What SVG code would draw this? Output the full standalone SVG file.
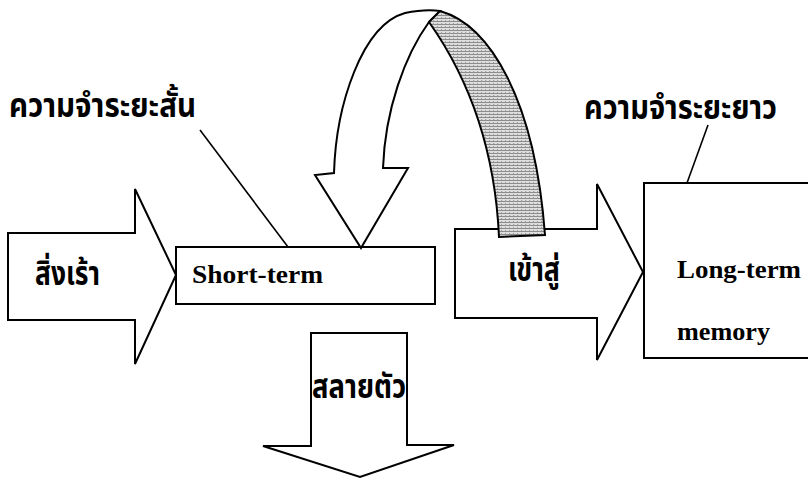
<svg xmlns="http://www.w3.org/2000/svg" width="808" height="484" viewBox="0 0 808 484">
<defs>
<pattern id="hatch" width="4" height="3" patternUnits="userSpaceOnUse">
<rect width="4" height="3" fill="#dedede"/>
<rect y="0" width="4" height="1" fill="#8c8c8c"/>
<rect x="1" y="2" width="1" height="1" fill="#a0a0a0"/>
</pattern>
</defs>
<style>
.shape{fill:#fff;stroke:#000;stroke-width:2;stroke-linejoin:miter}
.lead{stroke:#000;stroke-width:1.6;fill:none}
.en{font-family:"Liberation Serif","Times New Roman",serif;font-weight:bold;font-size:26px;fill:#000}
.th{font-family:"Noto Sans Thai","Noto Sans","Liberation Sans",sans-serif;font-weight:bold;font-size:33px;fill:#000}
</style>
<rect width="808" height="484" fill="#fff"/>

<g id="stimulus-arrow">
<path class="shape" d="M8,233 L135,233 L135,189 L176,275 L135,364 L135,320 L8,320 Z"/>
<text class="th" x="35" y="285" textLength="65" lengthAdjust="spacingAndGlyphs">สิ่งเร้า</text>
</g>

<g id="short-term">
<rect class="shape" x="176" y="247" width="259" height="57"/>
<text class="en" x="192" y="283" textLength="131" lengthAdjust="spacingAndGlyphs">Short-term</text>
</g>

<g id="enter-arrow">
<path class="shape" d="M455,229 L597,229 L597,184 L643,272 L597,360 L597,318 L455,318 Z"/>
<text class="th" x="508" y="281" textLength="52" lengthAdjust="spacingAndGlyphs">เข้าสู่</text>
</g>

<g id="long-term">
<path class="shape" d="M812,183 L644,183 L644,358 L812,358"/>
<text class="en" x="677" y="278" textLength="124" lengthAdjust="spacingAndGlyphs">Long-term</text>
<text class="en" x="677" y="340" textLength="93" lengthAdjust="spacingAndGlyphs">memory</text>
</g>

<g id="decay-arrow">
<path class="shape" d="M311,333 L407,333 L407,445 L454,445 L360,477 L263,446 L311,446 Z"/>
<text class="th" x="312" y="398" textLength="94" lengthAdjust="spacingAndGlyphs">สลายตัว</text>
</g>

<g id="rehearsal-loop">
<path class="shape" d="M334,173 C336,105 362,25 405,13 Q425,9 440,11 L429,22 C405,55 385,110 383,168 L408,168 L361,248 L315,175 Z"/>
<path d="M440,11 C490,25 535,100 545,235 L499,237 C495,150 470,80 429,22 Z" fill="url(#hatch)" stroke="#000" stroke-width="2"/>
</g>

<g id="label-short">
<text class="th" x="9" y="117" textLength="187" lengthAdjust="spacingAndGlyphs">ความจำระยะสั้น</text>
</g>
<g id="label-long">
<text class="th" x="584" y="119" textLength="193" lengthAdjust="spacingAndGlyphs">ความจำระยะยาว</text>
</g>

<g id="connectors">
<line class="lead" x1="200" y1="130" x2="288" y2="247"/>
<line class="lead" x1="708" y1="125" x2="687" y2="183"/>
</g>
</svg>
